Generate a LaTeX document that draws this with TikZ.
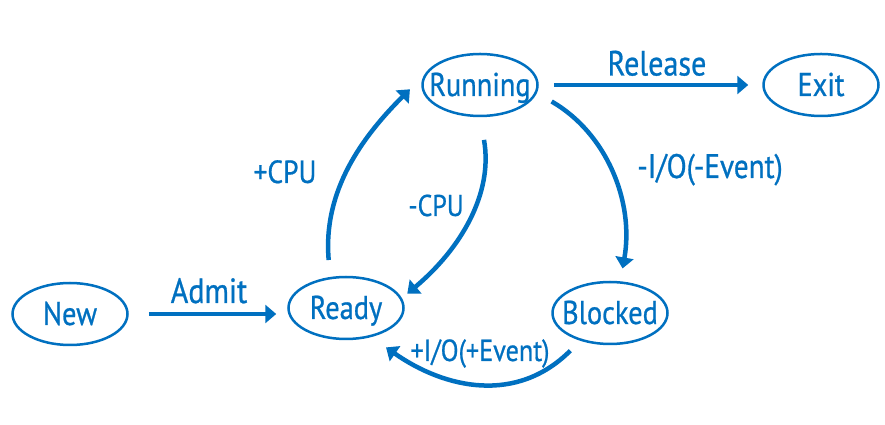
\documentclass[tikz,border=0pt]{standalone}
\usepackage{fontspec}
\newfontfamily\diagfont{PT Sans}[FakeStretch=0.86, FakeBold=0.7]
\usetikzlibrary{arrows.meta, shapes.geometric}
\definecolor{stateblue}{RGB}{0,112,192}
\newcommand{\stxt}[1]{\makebox[0pt]{#1}}
\newcommand{\fs}[1]{\diagfont\fontsize{#1}{#1}\selectfont}

\begin{document}
\begin{tikzpicture}[x=1pt, y=1pt,
  state/.style={ellipse, draw=stateblue, line width=2.5pt, text=stateblue,
    minimum width=115pt, minimum height=62pt, inner sep=0pt,
    font=\fs{33}, text height=22pt, text depth=0pt},
  move/.style={draw=stateblue, line width=4.5pt,
    -{Triangle[length=11pt, width=18pt]}},
  tag/.style={text=stateblue, inner sep=0pt, text height=20pt, text depth=0pt}]
\useasboundingbox [fill=white] (0,0) rectangle (885,425);
% states
\foreach \name/\x/\y in {New/70/111, Ready/346/117, Running/480/340,
                         Exit/821/340, Blocked/610/112}
  \node [state] (\name) at (\x,\y) {\stxt{\name}};
% transitions
\draw [move, shorten <=20pt, shorten >=11pt] (New.east) -- (New.east -| Ready.west);
\draw [move, shorten <=15pt, shorten >=14pt] (Running.east) -- (Running.east -| Exit.west);
\draw [move, shorten <=17pt, shorten >=20pt] (Ready.117) to [out=95, in=225] (Running.170);
\draw [move, shorten <=23pt, shorten >=7pt] (Running.south) to [out=-80, in=40] (Ready.10);
\draw [move, shorten <=17pt, shorten >=13pt] (Running.-8) to [out=-30, in=80] (Blocked.72);
\draw [move, shorten <=14pt, shorten >=18pt] (Blocked.223) to [out=-135, in=-35, looseness=1.1] (Ready.-49);
% labels
\node [tag, font=\fs{35}] (admit)    at (209,132)   {Admit};
\node [tag, font=\fs{35}] (release)  at (657,359.5) {Release};
\node [tag, font=\fs{32}] (pluscpu)  at (285,252)   {+CPU};
\node [tag, font=\fs{30}] (minuscpu) at (436,219)   {-CPU};
\node [tag, font=\fs{34}] (minusio)  at (710,257)   {-I/O(-Event)};
\node [tag, font=\fs{30.5}] (plusio) at (480,74)    {+I/O(+Event)};
\end{tikzpicture}
\end{document}
